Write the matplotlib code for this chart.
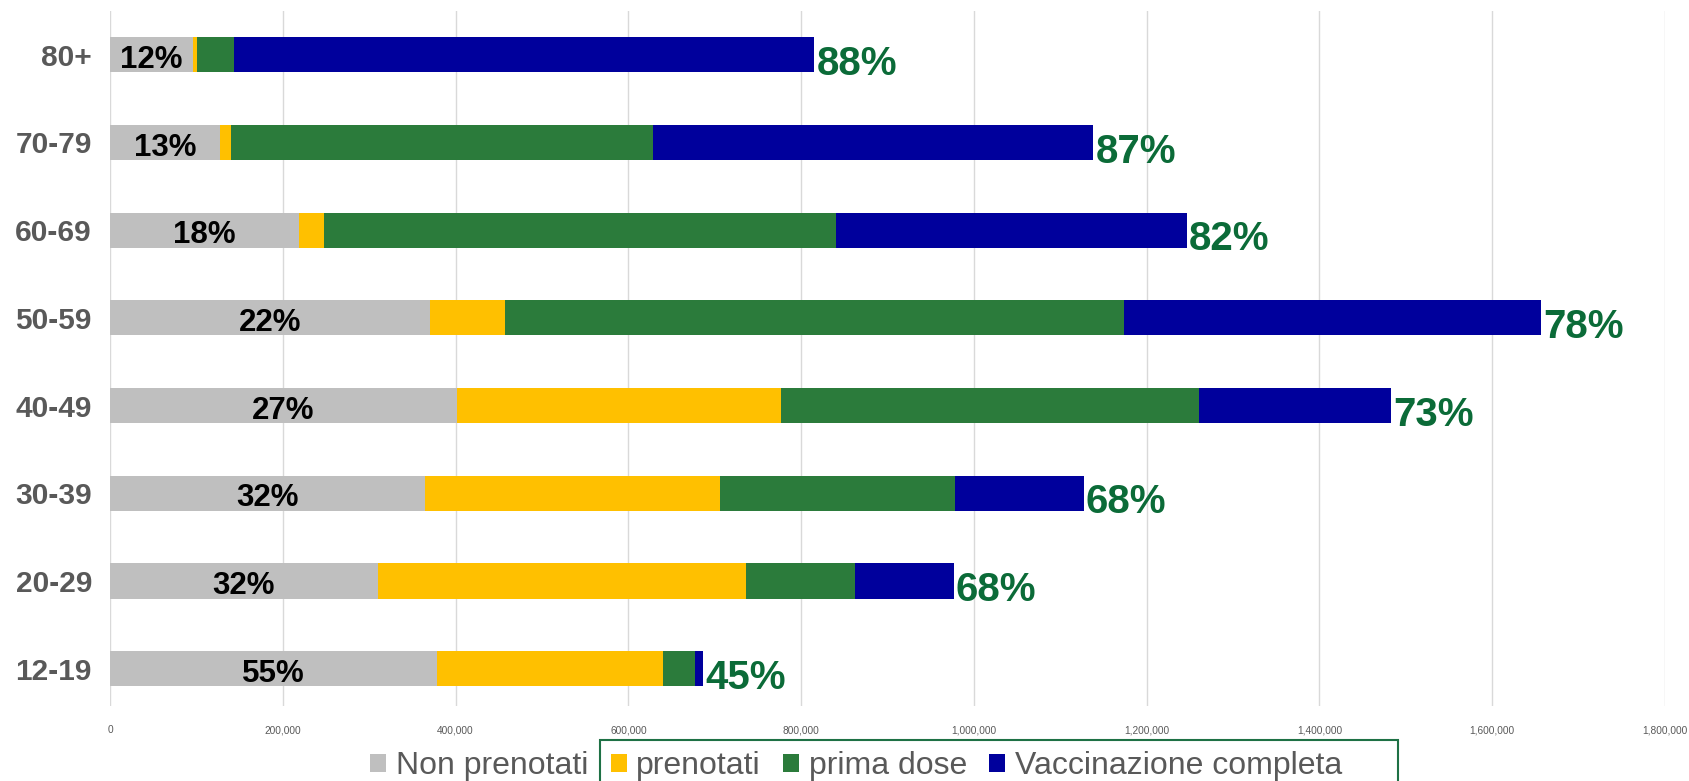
import matplotlib
matplotlib.use('Agg')
import matplotlib.pyplot as plt
from matplotlib import font_manager
from matplotlib.ticker import FuncFormatter, MultipleLocator
from matplotlib.patches import Rectangle

categories = ['80+', '70-79', '60-69', '50-59', '40-49', '30-39', '20-29', '12-19']
non_prenotati = [96000, 127400, 218800, 370400, 401500, 364300, 310100, 378400]
prenotati = [5100, 12700, 28900, 87300, 375400, 341300, 425600, 262000]
prima_dose = [42100, 488200, 592400, 715600, 483700, 272000, 126500, 37100]
vacc_completa = [672200, 509900, 406500, 482800, 221900, 149600, 114400, 9000]
pct_non = ['12%', '13%', '18%', '22%', '27%', '32%', '32%', '55%']
pct_vacc = ['88%', '87%', '82%', '78%', '73%', '68%', '68%', '45%']
series_names = ['Non prenotati', 'prenotati', 'prima dose', 'Vaccinazione completa']
colors = ['#bfbfbf', '#ffc000', '#2b7b3b', '#00009c']

names = {f.name for f in font_manager.fontManager.ttflist}
base = 'Liberation Sans' if 'Liberation Sans' in names else 'DejaVu Sans'
narrow = 'Liberation Sans Narrow' if 'Liberation Sans Narrow' in names else base
plt.rcParams['font.family'] = [base, 'DejaVu Sans']

fig = plt.figure(figsize=(16.89, 7.81), dpi=100)
ax = fig.add_axes([110/1689, 1-705.6/781, (1665-110)/1689, (705.6-10.8)/781])

y = list(range(len(categories)))
left = [0]*len(categories)
series = [non_prenotati, prenotati, prima_dose, vacc_completa]
for vals, col, nm in zip(series, colors, series_names):
    ax.barh(y, vals, left=left, height=0.4, color=col, label=nm, zorder=3)
    left = [l + v for l, v in zip(left, vals)]

for i in y:
    ax.annotate(pct_non[i], xy=(non_prenotati[i]/2, i), xytext=(0, -9.5), textcoords='offset points',
                ha='center', va='baseline', fontsize=22.5, fontweight='bold', color='black', zorder=4)
    ax.annotate(pct_vacc[i], xy=(left[i], i), xytext=(1.5, -14.5), textcoords='offset points',
                ha='left', va='baseline', fontsize=29, fontweight='bold', color='#0b6b38', zorder=4)

ax.set_xlim(0, 1800000)
ax.set_ylim(7.42, -0.5)
ax.xaxis.set_major_locator(MultipleLocator(200000))
ax.xaxis.set_major_formatter(FuncFormatter(lambda v, p: f'{int(v):,}'))
ax.set_yticks(y)
ax.set_yticklabels(categories)
ax.tick_params(axis='y', length=0, pad=13, labelsize=21.5, labelcolor='#595959')
ax.tick_params(axis='x', length=0, pad=14, labelsize=7.3, labelcolor='#595959')
for lb in ax.get_yticklabels():
    lb.set_fontweight('bold')
ax.grid(axis='x', color='#d9d9d9', linewidth=1, zorder=0)
for s in ax.spines.values():
    s.set_visible(False)

leg = fig.legend(loc='center', bbox_to_anchor=(0.507, 0.019), ncol=4, frameon=False,
                 prop={'family': [narrow, 'DejaVu Sans'], 'size': 23},
                 handlelength=0.5, handleheight=0.5, handletextpad=0.3, columnspacing=0.7)
for t in leg.get_texts():
    t.set_color('#595959')

fig.patches.append(Rectangle((600/1689, -0.05), (1398-600)/1689, 0.05+1-740/781,
                             transform=fig.transFigure, fill=False, edgecolor='#1e7145',
                             linewidth=1.5, clip_on=False))

fig.savefig('out.png', dpi=100)
